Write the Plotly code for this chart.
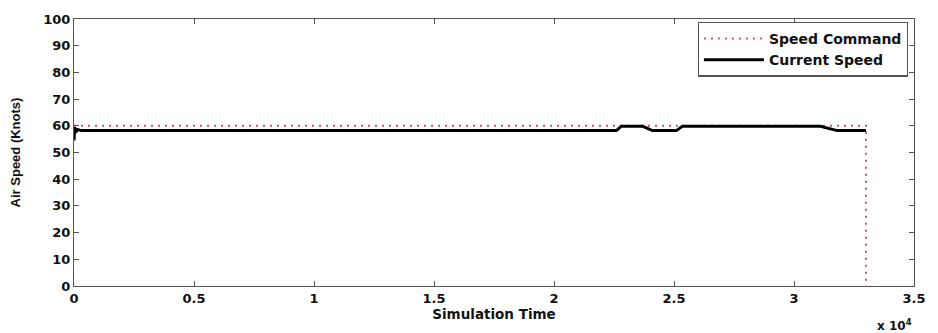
import plotly.graph_objects as go

cmd_t = [0, 33000, 33000]
cmd_v = [60, 60, 0]

cur_t = [0, 30, 60, 150, 300, 22600, 22800, 23700, 24100, 25100, 25350, 31100, 31800, 33000]
cur_v = [54.5, 59.5, 57.5, 58.6, 58.2, 58.2, 59.8, 59.8, 58.2, 58.2, 59.8, 59.8, 58.2, 58.2]

x_ticks = [0, 5000, 10000, 15000, 20000, 25000, 30000, 35000]
x_labels = ["0", "0.5", "1", "1.5", "2", "2.5", "3", "3.5"]
y_ticks = [0, 10, 20, 30, 40, 50, 60, 70, 80, 90, 100]

font = "DejaVu Sans, Arial, sans-serif"
tickfont = dict(family=font, size=13, color="#111", weight="bold")

fig = go.Figure()
fig.add_trace(go.Scatter(x=cmd_t, y=cmd_v, mode="lines", name="Speed Command",
                         line=dict(color="#cc5570", width=2, dash="2px,5px")))
fig.add_trace(go.Scatter(x=cur_t, y=cur_v, mode="lines", name="Current Speed",
                         line=dict(color="black", width=3)))

axis_common = dict(showgrid=False, zeroline=False, showline=True, linecolor="#555",
                   linewidth=1.2, mirror="ticks", ticks="inside", ticklen=5,
                   tickcolor="#555", tickfont=tickfont)

fig.update_layout(
    width=938, height=333,
    margin=dict(l=74, r=20, t=13, b=47),
    plot_bgcolor="white", paper_bgcolor="white",
    xaxis=dict(range=[0, 35000], tickvals=x_ticks, ticktext=x_labels,
               title=dict(text="Simulation Time", font=dict(family=font, size=13.5, color="#111", weight="bold"), standoff=0),
               **axis_common),
    yaxis=dict(range=[0, 100], tickvals=y_ticks,
               title=dict(text="Air Speed (Knots)", font=dict(family="Liberation Sans, Arial", size=13, color="#111", weight="bold"), standoff=19),
               **axis_common),
    legend=dict(x=0.9925, y=0.99, xanchor="right", yanchor="top",
                bordercolor="#555", borderwidth=1.2, bgcolor="white",
                font=dict(family=font, size=14, color="#111", weight="bold"),
                tracegroupgap=0, itemwidth=60),
    showlegend=True,
)
fig.add_annotation(text="x 10<sup>4</sup>", xref="paper", yref="paper", x=1.0, y=-0.11,
                   xanchor="right", yanchor="top", showarrow=False,
                   font=dict(family=font, size=12, color="#111", weight="bold"))
fig.write_html("out.html")
